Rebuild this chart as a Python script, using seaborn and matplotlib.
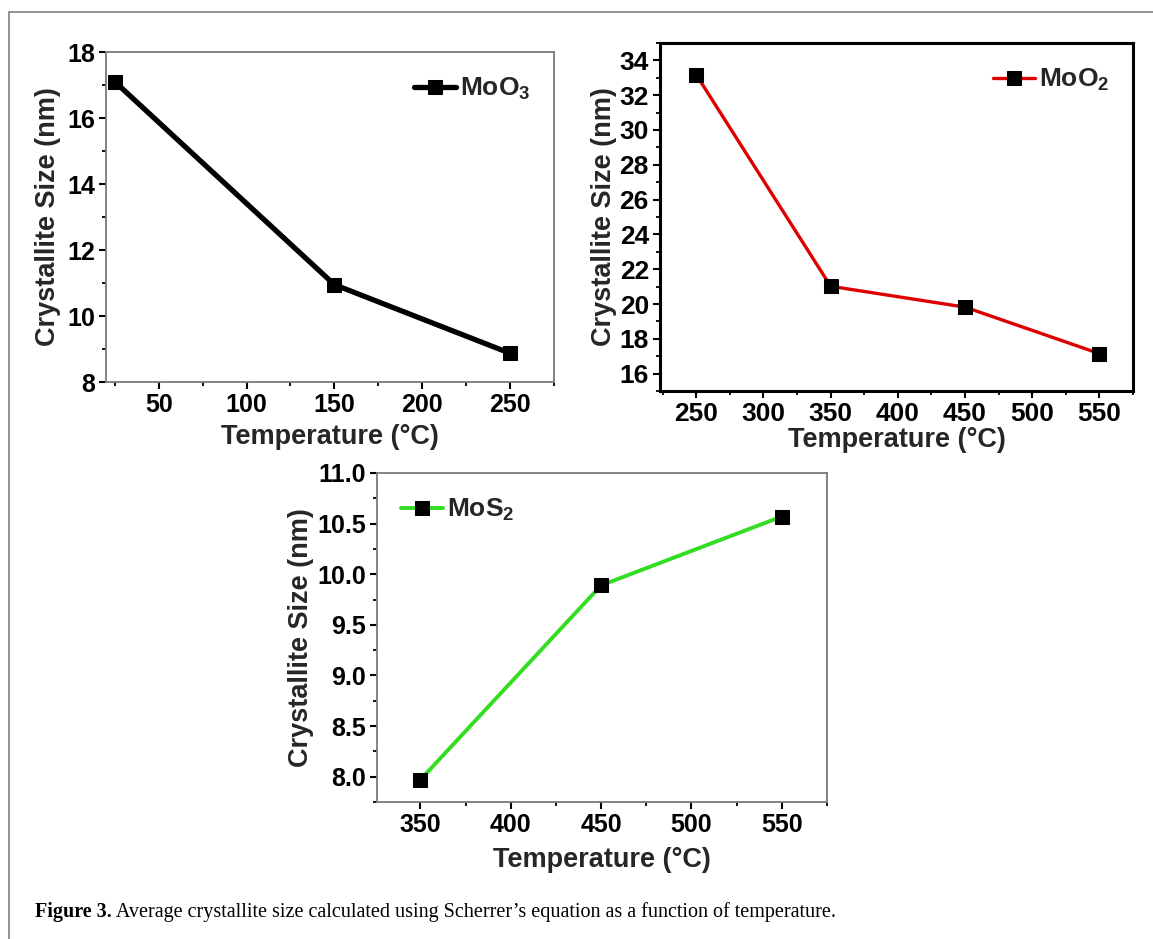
import numpy as np
import pandas as pd
import matplotlib
matplotlib.use("Agg")
import matplotlib.pyplot as plt
from matplotlib.lines import Line2D
from matplotlib.ticker import MultipleLocator
import seaborn as sns

# ---- data ----
moo3_temp = [25, 150, 250]
moo3_size = [17.1, 10.95, 8.87]
moo2_temp = [250, 350, 450, 550]
moo2_size = [33.17, 21.02, 19.82, 17.15]
mos2_temp = [350, 450, 550]
mos2_size = [7.97, 9.89, 10.57]

moo3_xticks = [50, 100, 150, 200, 250]
moo3_yticks = [8, 10, 12, 14, 16, 18]
moo2_xticks = [250, 300, 350, 400, 450, 500, 550]
moo2_yticks = [16, 18, 20, 22, 24, 26, 28, 30, 32, 34]
mos2_xticks = [350, 400, 450, 500, 550]
mos2_yticks = [8.0, 8.5, 9.0, 9.5, 10.0, 10.5, 11.0]

xlabel = "Temperature (\u00b0C)"
ylabel = "Crystallite Size (nm)"
caption_bold = "Figure 3."
caption_rest = " Average crystallite size calculated using Scherrer\u2019s equation as a function of temperature."

sns.set_theme(style="white")
plt.rcParams['font.family'] = ['Liberation Sans', 'DejaVu Sans']
plt.rcParams['font.weight'] = 'bold'
plt.rcParams['mathtext.default'] = 'regular'

W, H = 1153, 939
fig = plt.figure(figsize=(W / 100, H / 100), dpi=100)
fig.patch.set_facecolor('white')

def rect(l, t, r, b):
    return [l / W, 1 - b / H, (r - l) / W, (b - t) / H]

panels = [
    dict(pos=rect(106, 52, 554, 382), x=moo3_temp, y=moo3_size, color='#000000', lw=3.8,
         label='MoO$_3$', xlim=(20, 275), ylim=(8, 18), xmin=25, ymin=1,
         xt=moo3_xticks, yt=moo3_yticks, yfmt='{:.0f}',
         spine='#7a7a7a', slw=1.3, loc='upper right', fs=18, xlp=5, ylp=4),
    dict(pos=rect(660, 43, 1133, 391), x=moo2_temp, y=moo2_size, color='#dd0000', lw=2.4,
         label='MoO$_2$', xlim=(223, 575), ylim=(15, 35), xmin=25, ymin=1,
         xt=moo2_xticks, yt=moo2_yticks, yfmt='{:.0f}',
         spine='#000000', slw=2.2, loc='upper right', fs=19, xlp=0.5, ylp=1.5),
    dict(pos=rect(377, 473, 827, 802), x=mos2_temp, y=mos2_size, color='#33dd22', lw=2.8,
         label='MoS$_2$', xlim=(326, 575), ylim=(7.75, 11.0), xmin=25, ymin=0.25,
         xt=mos2_xticks, yt=mos2_yticks, yfmt='{:.1f}',
         spine='#7a7a7a', slw=1.3, loc='upper left', fs=18, xlp=7, ylp=2),
]

for p in panels:
    ax = fig.add_axes(p['pos'])
    df = pd.DataFrame({'T': p['x'], 'S': p['y']})
    sns.lineplot(data=df, x='T', y='S', ax=ax, color=p['color'], linewidth=p['lw'],
                 marker='s', markersize=10.5, markerfacecolor='black', markeredgecolor='black',
                 label=p['label'])
    ax.set_xlim(*p['xlim'])
    ax.set_ylim(*p['ylim'])
    ax.set_xticks(p['xt'])
    ax.set_xticklabels([f'{v:.0f}' for v in p['xt']])
    ax.set_yticks(p['yt'])
    ax.set_yticklabels([p['yfmt'].format(v) for v in p['yt']])
    ax.xaxis.set_minor_locator(MultipleLocator(p['xmin']))
    ax.yaxis.set_minor_locator(MultipleLocator(p['ymin']))
    ax.tick_params(which='major', direction='out', length=5, width=1.5, colors='black',
                   labelsize=p['fs'], pad=3, bottom=True, left=True, top=False, right=False)
    ax.tick_params(which='minor', direction='out', length=3, width=1.3, colors='black',
                   bottom=True, left=True, top=False, right=False)
    for s in ax.spines.values():
        s.set_color(p['spine'])
        s.set_linewidth(p['slw'])
        s.set_visible(True)
    ax.set_xlabel(xlabel, fontsize=19.5, fontweight='bold', labelpad=p['xlp'])
    ax.set_ylabel(ylabel, fontsize=19.5, fontweight='bold', labelpad=p['ylp'])
    ax.grid(False)
    leg = ax.legend(loc=p['loc'], frameon=False, fontsize=19, handlelength=1.6,
                    handletextpad=0.15, borderaxespad=0.5)
    for t in leg.get_texts():
        t.set_fontweight('bold')

# outer frame lines
fig.add_artist(Line2D([9 / W, 9 / W], [1 - 12 / H, 0], color='#808080', lw=1.2))
fig.add_artist(Line2D([9 / W, 1.0], [1 - 12 / H, 1 - 12 / H], color='#808080', lw=1.2))

# caption
t1 = fig.text(35 / W, 1 - 917 / H, caption_bold, family='Liberation Serif', fontweight='bold',
              fontsize=14.5, va='baseline', ha='left', color='black')
plt.annotate(caption_rest, xy=(1, 0), xycoords=t1, va='bottom', ha='left',
             family='Liberation Serif', fontweight='normal', fontsize=14.5, color='black',
             annotation_clip=False)

fig.savefig('out.png', dpi=100, facecolor='white')
